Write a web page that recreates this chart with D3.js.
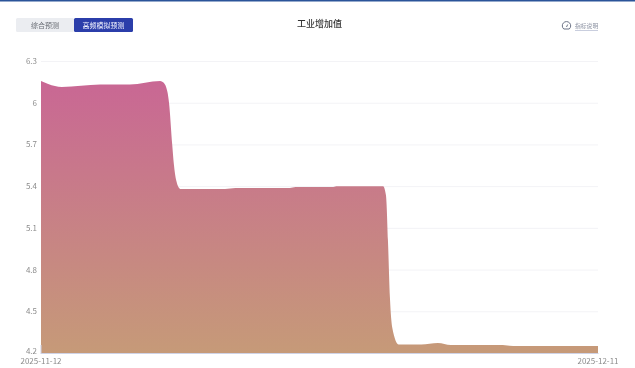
<!DOCTYPE html>
<html>
<head>
<meta charset="utf-8">
<script src="https://d3js.org/d3.v7.min.js"></script>
<style>
  html, body { margin: 0; padding: 0; background: #fff; }
  svg { display: block; filter: blur(0.35px); }
  text { font-family: "Noto Sans CJK SC", "Noto Sans", sans-serif; }
  .tick line { stroke: #f3f3f6; }
  .tick text { fill: #8c8c8c; font-size: 8px; }
</style>
</head>
<body>
<svg id="chart" width="635" height="368"></svg>
<script>
const startDate = "2025-11-12";
const endDate = "2025-12-11";
const yTicks = [4.2, 4.5, 4.8, 5.1, 5.4, 5.7, 6, 6.3];
const tabs = ["综合预测", "高频模拟预测"];
// hours since the first date, high frequency series
const hours = [0, 9, 26, 74, 111, 149, 153, 158, 160, 164, 166, 169, 174, 230, 243, 311, 318, 364, 369, 427.5, 431, 433.5, 436, 439, 447, 475, 496, 512, 577, 590, 696];
const values = [6.156, 6.135, 6.113, 6.131, 6.131, 6.156, 6.145, 6.077, 5.998, 5.696, 5.56, 5.44, 5.38, 5.38, 5.387, 5.387, 5.394, 5.394, 5.40, 5.40, 5.336, 5.013, 4.6, 4.38, 4.261, 4.261, 4.272, 4.258, 4.258, 4.25, 4.25];

const svg = d3.select("#chart");
const margin = { top: 61, right: 37, bottom: 15, left: 41 };
const width = +svg.attr("width");
const height = +svg.attr("height");

const t0 = new Date(startDate + "T00:00:00Z");
const t1 = new Date(endDate + "T00:00:00Z");
const points = hours.map((h, i) => ({ t: new Date(+t0 + h * 3600000), v: values[i] }));

const x = d3.scaleUtc().domain([t0, t1]).range([margin.left, width - margin.right]);
const y = d3.scaleLinear().domain([4.2, 6.3]).range([height - margin.bottom, margin.top]);

// top rule
svg.append("rect").attr("width", width).attr("height", 1.5).attr("fill", "#2b5499");

// tabs
const tabX = d3.scaleOrdinal().domain(tabs).range([16, 74]);
const tabW = d3.scaleOrdinal().domain(tabs).range([58, 59]);
svg.selectAll("rect.tab")
  .data(tabs)
  .join("rect")
  .attr("class", "tab")
  .attr("x", (d) => tabX(d))
  .attr("y", 18)
  .attr("width", (d) => tabW(d))
  .attr("height", 14)
  .attr("rx", 1.5)
  .attr("fill", (d, i) => (i ? "#2b3eaa" : "#ebedf1"));
svg.selectAll("text.tab")
  .data(tabs)
  .join("text")
  .attr("class", "tab")
  .attr("x", (d) => tabX(d) + tabW(d) / 2)
  .attr("y", 27.5)
  .attr("text-anchor", "middle")
  .attr("font-size", 7)
  .attr("fill", (d, i) => (i ? "#f4f5ff" : "#666a72"))
  .text((d) => d);

// title
svg.append("text")
  .attr("x", 319.5)
  .attr("y", 27)
  .attr("text-anchor", "middle")
  .attr("font-size", 9)
  .attr("font-weight", 500)
  .attr("fill", "#333")
  .text("工业增加值");

// indicator note
svg.append("path")
  .attr("d", "M563.8 29 a4.2 4.2 0 1 1 5.4 0 Z M566.5 27 l1.2 -2.5")
  .attr("fill", "none")
  .attr("stroke", "#6b7285")
  .attr("stroke-width", 1);
svg.append("text")
  .attr("x", 575)
  .attr("y", 27.5)
  .attr("font-size", 5.8)
  .attr("fill", "#8d93a3")
  .text("指标说明");
svg.append("line")
  .attr("x1", 575)
  .attr("x2", 598)
  .attr("y1", 30.5)
  .attr("y2", 30.5)
  .attr("stroke", "#c9cede");

// grid + y labels
const yAxis = d3.axisLeft(y)
  .tickValues(yTicks)
  .tickFormat((d) => d)
  .tickSize(-(width - margin.left - margin.right))
  .tickPadding(4);
const yG = svg.append("g").attr("transform", "translate(" + margin.left + ",0)").call(yAxis);
yG.select(".domain").remove();
// lowest label sits just above the date label
yG.selectAll(".tick text").filter((d) => d === 4.2).attr("dy", "0.05em");

// area
const defs = svg.append("defs");
const grad = defs.append("linearGradient")
  .attr("id", "fillGrad")
  .attr("gradientUnits", "userSpaceOnUse")
  .attr("x1", 0).attr("x2", 0)
  .attr("y1", y(6.156)).attr("y2", y(4.2));
grad.append("stop").attr("offset", "0%").attr("stop-color", "#c96794");
grad.append("stop").attr("offset", "100%").attr("stop-color", "#c69a78");

const area = d3.area()
  .x((d) => x(d.t))
  .y0(y(4.2))
  .y1((d) => y(d.v))
  .curve(d3.curveMonotoneX);
svg.append("path").datum(points).attr("d", area).attr("fill", "url(#fillGrad)");

// axis lines
svg.append("line")
  .attr("x1", margin.left).attr("x2", margin.left)
  .attr("y1", y(4.2) - 8).attr("y2", y(4.2) + 1)
  .attr("stroke", "#cfd3e6");
svg.append("line")
  .attr("x1", margin.left).attr("x2", width - margin.right)
  .attr("y1", y(4.2) + 0.5).attr("y2", y(4.2) + 0.5)
  .attr("stroke", "#cfd3e6");
svg.append("line")
  .attr("x1", width - margin.right).attr("x2", width - margin.right)
  .attr("y1", y(4.2)).attr("y2", y(4.2) + 1)
  .attr("stroke", "#cfd3e6");

// x labels
svg.selectAll("text.xlabel")
  .data([t0, t1])
  .join("text")
  .attr("class", "xlabel")
  .attr("x", (d) => x(d))
  .attr("y", 363.5)
  .attr("text-anchor", "middle")
  .attr("font-size", 8)
  .attr("fill", "#8c8c8c")
  .text((d) => d3.utcFormat("%Y-%m-%d")(d));
</script>
</body>
</html>
